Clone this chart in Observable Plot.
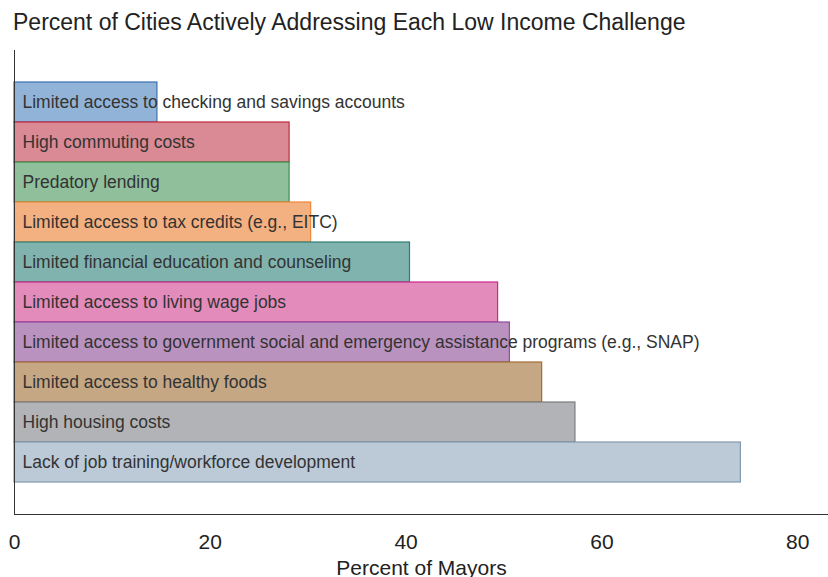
<!DOCTYPE html>
<html>
<head>
<meta charset="utf-8">
<script src="https://cdn.jsdelivr.net/npm/d3@7"></script>
<script src="https://cdn.jsdelivr.net/npm/@observablehq/plot@0.6"></script>
<style>
  html, body { margin: 0; padding: 0; background: #fff; }
  body { width: 828px; height: 577px; overflow: hidden; font-family: "Liberation Sans", Arial, sans-serif; }
  #title { height: 44px; line-height: 44px; padding-left: 13px; font-size: 23px; color: #222; white-space: nowrap; }
</style>
</head>
<body>
<div id="title">Percent of Cities Actively Addressing Each Low Income Challenge</div>
<div id="chart"></div>
<script>
const categories = [
  "Limited access to checking and savings accounts",
  "High commuting costs",
  "Predatory lending",
  "Limited access to tax credits (e.g., EITC)",
  "Limited financial education and counseling",
  "Limited access to living wage jobs",
  "Limited access to government social and emergency assistance programs (e.g., SNAP)",
  "Limited access to healthy foods",
  "High housing costs",
  "Lack of job training/workforce development"
];
const values = [14.6, 28.1, 28.1, 30.3, 40.4, 49.4, 50.6, 53.9, 57.3, 74.2];
const fills = ["#92b3d8", "#d98a94", "#8fbf9b", "#f3b080", "#80b3ae", "#e38cbb", "#ba92c0", "#c6a784", "#b2b3b6", "#bccad7"];
const strokes = ["#3d6fb0", "#c1283a", "#3a8f4e", "#f0883a", "#2e7d75", "#c9288a", "#904a9a", "#a06e35", "#7a7c80", "#8399b0"];
const xTicks = [0, 20, 40, 60, 80];

const data = categories.map((c, i) => ({category: c, value: values[i], stroke: strokes[i]}));

const chart = Plot.plot({
  width: 828,
  height: 533,
  marginTop: 6,
  marginBottom: 63,
  marginLeft: 14,
  marginRight: 0,
  style: {fontFamily: "'Liberation Sans', Arial, sans-serif", background: "#fff", color: "#222", overflow: "visible"},
  x: {domain: [0, 83.15]},
  y: {domain: categories, paddingInner: 0, paddingOuter: 0.73},
  color: {domain: categories, range: fills},
  marks: [
    Plot.barX(data, {x: "value", y: "category", fill: "category", stroke: "stroke", strokeWidth: 1.2}),
    Plot.text(data, {x: 0, y: "category", text: "category", textAnchor: "start", dx: 8, fontSize: 17.5, fill: "#333"}),
    Plot.axisY({ticks: [], label: null}),
    Plot.axisX({ticks: xTicks, tickSize: 0, tickPadding: 20, fontSize: 21, label: "Percent of Mayors", labelAnchor: "center", labelOffset: 60, labelArrow: "none"}),
    Plot.frame({anchor: "left", stroke: "#333"}),
    Plot.frame({anchor: "bottom", stroke: "#333"})
  ]
});
document.getElementById("chart").appendChild(chart);
</script>
</body>
</html>
